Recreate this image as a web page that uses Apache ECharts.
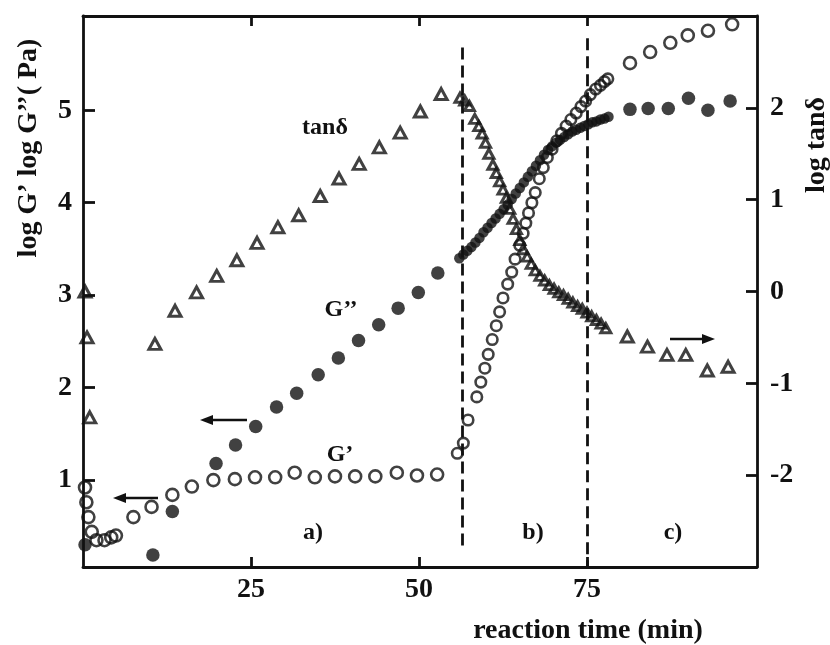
<!DOCTYPE html>
<html>
<head>
<meta charset="utf-8">
<script src="https://cdn.jsdelivr.net/npm/echarts@6/dist/echarts.min.js"></script>
<style>
  html, body { margin: 0; padding: 0; background: #ffffff; }
  #chart { width: 830px; height: 645px; }
</style>
</head>
<body>
<div id="chart"></div>
<script>
// Reaction time (min) and log G'' (Pa), loss modulus — filled circles
const lossTime = [
  0.3, 10.4, 13.3, 19.8, 22.7, 25.7, 28.8, 31.8, 35.0, 38.0, 41.0, 44.0, 46.9, 49.9, 52.8,
  56.0, 56.6, 57.2, 57.8, 58.4, 59.0, 59.6, 60.2, 60.8, 61.4, 62.0, 62.6, 63.2, 63.8, 64.4,
  65.0, 65.6, 66.2, 66.8, 67.4, 68.0, 68.6, 69.2, 69.8, 70.4, 71.0, 71.6, 72.2, 72.8, 73.4,
  74.0, 74.6, 75.2, 75.8, 76.4, 77.0, 77.6, 78.2,
  81.4, 84.1, 87.1, 90.1, 93.0, 96.3
];
const lossLog = [
  0.30, 0.19, 0.66, 1.18, 1.38, 1.58, 1.79, 1.94, 2.14, 2.32, 2.51, 2.68, 2.86, 3.03, 3.24,
  3.40, 3.44, 3.48, 3.52, 3.57, 3.62, 3.68, 3.73, 3.78, 3.83, 3.88, 3.93, 3.98, 4.04, 4.10,
  4.16, 4.22, 4.28, 4.34, 4.40, 4.46, 4.52, 4.57, 4.61, 4.65, 4.68, 4.71, 4.74, 4.77, 4.79,
  4.81, 4.83, 4.85, 4.87, 4.88, 4.90, 4.91, 4.93,
  5.01, 5.02, 5.02, 5.13, 5.00, 5.10
];

// Reaction time (min) and log G' (Pa), storage modulus — open circles
const storageTime = [
  0.3, 0.5, 0.8, 1.3, 2.0, 3.2, 4.2, 4.9, 7.5, 10.2, 13.3, 16.2, 19.4, 22.6, 25.6, 28.6,
  31.5, 34.5, 37.5, 40.5, 43.5, 46.7, 49.7, 52.7,
  55.7, 56.6, 57.3, 58.6, 59.2, 59.8, 60.3, 60.9, 61.5, 62.0, 62.5, 63.2, 63.8, 64.3, 65.0,
  65.5, 65.9, 66.3, 66.8, 67.3, 67.9, 68.5, 69.1, 69.8, 70.5, 71.2, 71.9, 72.6, 73.4, 74.1,
  74.8, 75.5, 76.3, 77.0, 77.6, 78.1,
  81.4, 84.4, 87.4, 90.0, 93.0, 96.6
];
const storageLog = [
  0.92, 0.76, 0.60, 0.44, 0.35, 0.35, 0.38, 0.40, 0.60, 0.71, 0.84, 0.93, 1.00, 1.01, 1.03, 1.03,
  1.08, 1.03, 1.04, 1.04, 1.04, 1.08, 1.05, 1.06,
  1.29, 1.40, 1.65, 1.90, 2.06, 2.21, 2.36, 2.52, 2.67, 2.82, 2.97, 3.12, 3.25, 3.39, 3.54,
  3.67, 3.78, 3.89, 4.00, 4.11, 4.26, 4.38, 4.49, 4.58, 4.67, 4.75, 4.83, 4.90, 4.97, 5.04,
  5.10, 5.17, 5.23, 5.27, 5.31, 5.34,
  5.51, 5.63, 5.73, 5.81, 5.86, 5.93
];

// Reaction time (min) and log tan(delta) — open triangles, right axis
const tanTime = [
  0.3, 0.6, 1.0, 10.7, 13.7, 16.9, 19.9, 22.9, 25.9, 29.0, 32.1, 35.3, 38.1, 41.1, 44.1,
  47.2, 50.2, 53.3,
  56.1, 56.8, 57.5, 58.3, 58.9, 59.4, 59.9, 60.4, 61.0, 61.5, 62.0, 62.5, 63.0, 63.5, 64.0,
  64.5, 65.0, 65.5, 66.1, 66.7, 67.3, 68.0, 68.7, 69.4, 70.1, 70.8, 71.5, 72.2, 72.9, 73.6,
  74.3, 75.0, 75.7, 76.4, 77.1, 77.8,
  81.0, 84.0, 86.9, 89.7, 92.9, 96.0
];
const tanLog = [
  0.00, -0.50, -1.37, -0.57, -0.21, -0.01, 0.17, 0.34, 0.53, 0.70, 0.83, 1.04, 1.23, 1.39, 1.57,
  1.73, 1.96, 2.15,
  2.11, 2.08, 2.02, 1.88, 1.80, 1.72, 1.62, 1.50, 1.38, 1.29, 1.20, 1.11, 1.02, 0.90, 0.79,
  0.68, 0.56, 0.46, 0.38, 0.30, 0.23, 0.17, 0.12, 0.07, 0.03, -0.01, -0.04, -0.08, -0.12, -0.16,
  -0.19, -0.23, -0.27, -0.31, -0.35, -0.40,
  -0.49, -0.60, -0.69, -0.69, -0.86, -0.82
];

// Tick labels
const timeTicks = [25, 50, 75];
const modulusTicks = [1, 2, 3, 4, 5];
const tanTicks = [-2, -1, 0, 1, 2];

// Stage boundaries (min) separating a), b) and c)
const stageBounds = [56.5, 75.1];

const INK = '#111111';
const SERIF = '"Liberation Serif", "Times New Roman", serif';

const pairs = (xs, ys) => xs.map((x, i) => [x, ys[i]]);
// points measured densely during the gelation stage are drawn smaller
const inDenseStage = t => t > 55.5 && t < 79;

const chart = echarts.init(document.getElementById('chart'), null, { renderer: 'canvas' });

const labelStyle = { color: INK, fontFamily: SERIF, fontWeight: 'bold', fontSize: 28 };
const lineStyle = { color: INK, width: 2.8 };

chart.setOption({
  animation: false,
  backgroundColor: '#ffffff',
  grid: { left: 83, right: 73, top: 16, bottom: 78, containLabel: false, outerBoundsMode: 'none' },
  xAxis: [
    {
      type: 'value', position: 'bottom', min: 0, max: 100.3,
      axisLine: { show: true, onZero: false, lineStyle },
      axisTick: { show: true, inside: true, length: 10, lineStyle, customValues: timeTicks },
      axisLabel: Object.assign({ margin: 9, customValues: timeTicks }, labelStyle),
      splitLine: { show: false }
    },
    {
      type: 'value', position: 'top', min: 0, max: 100.3,
      axisLine: { show: true, onZero: false, lineStyle },
      axisTick: { show: true, inside: true, length: 10, lineStyle, customValues: timeTicks },
      axisLabel: { show: false },
      splitLine: { show: false }
    }
  ],
  yAxis: [
    {
      type: 'value', position: 'left', min: 0.06, max: 6.02,
      axisLine: { show: true, onZero: false, lineStyle },
      axisTick: { show: true, inside: true, length: 12, lineStyle, customValues: modulusTicks },
      axisLabel: Object.assign({ margin: 11, customValues: modulusTicks }, labelStyle),
      splitLine: { show: false }
    },
    {
      type: 'value', position: 'right', min: -3, max: 3,
      axisLine: { show: true, onZero: false, lineStyle },
      axisTick: { show: true, inside: true, length: 11, lineStyle, customValues: tanTicks },
      axisLabel: Object.assign({ margin: 13, customValues: tanTicks }, labelStyle),
      splitLine: { show: false }
    }
  ],
  series: [
    {
      name: 'tan\u03b4', type: 'scatter', xAxisIndex: 0, yAxisIndex: 1,
      data: pairs(tanTime, tanLog),
      symbol: 'triangle',
      symbolSize: v => inDenseStage(v[0]) ? [10, 9] : [12, 11],
      itemStyle: { color: 'rgba(0,0,0,0)', borderColor: INK, borderWidth: 3 },
      z: 3
    },
    {
      name: "G'", type: 'scatter', xAxisIndex: 0, yAxisIndex: 0,
      data: pairs(storageTime, storageLog),
      symbol: 'circle',
      symbolSize: v => inDenseStage(v[0]) ? 10.5 : 12,
      itemStyle: { color: 'rgba(0,0,0,0)', borderColor: INK, borderWidth: 2.6 },
      z: 4
    },
    {
      name: "G''", type: 'scatter', xAxisIndex: 0, yAxisIndex: 0,
      data: pairs(lossTime, lossLog),
      symbol: 'circle',
      symbolSize: v => inDenseStage(v[0]) ? 10.5 : 13.5,
      itemStyle: { color: INK },
      z: 5,
      markLine: {
        silent: true,
        symbol: ['none', 'none'],
        label: { show: false },
        lineStyle: { color: INK, width: 2.8, type: [12, 6] },
        data: [
          [{ coord: [stageBounds[0], 5.68] }, { coord: [stageBounds[0], 0.24] }],
          [{ coord: [stageBounds[1], 5.78] }, { coord: [stageBounds[1], 0.06] }]
        ]
      }
    }
  ]
});

// Annotations: series names, stage labels, axis-pointing arrows and axis titles
function text(str, x, y, size, extra) {
  return Object.assign({
    type: 'text', x, y, silent: true,
    style: {
      text: str, fill: INK, font: 'bold ' + size + 'px ' + SERIF,
      align: 'center', verticalAlign: 'middle'
    }
  }, extra || {});
}
function arrow(x1, x2, y) {
  const dir = Math.sign(x2 - x1);
  const head = 13, half = 5;
  return {
    type: 'group', silent: true,
    children: [
      { type: 'line', shape: { x1, y1: y, x2: x2 - dir * head * 0.6, y2: y },
        style: { stroke: INK, lineWidth: 2.6 } },
      { type: 'polygon', shape: { points: [[x2, y], [x2 - dir * head, y - half], [x2 - dir * head, y + half]] },
        style: { fill: INK } }
    ]
  };
}

chart.setOption({
  graphic: [
    text('tan\u03b4', 325, 128, 24),
    text('G\u2019\u2019', 341, 310, 24),
    text('G\u2019', 340, 455, 24),
    text('a)', 313, 533, 24),
    text('b)', 533, 533, 24),
    text('c)', 673, 533, 24),
    arrow(247, 200, 420),
    arrow(158, 113, 498),
    arrow(670, 715, 339),
    text('log G\u2019 log G\u2019\u2019( Pa)', 29, 148, 28, { rotation: Math.PI / 2 }),
    text('log tan\u03b4', 817, 145, 28, { rotation: Math.PI / 2 }),
    text('reaction time (min)', 588, 631, 28)
  ]
});
</script>
</body>
</html>
